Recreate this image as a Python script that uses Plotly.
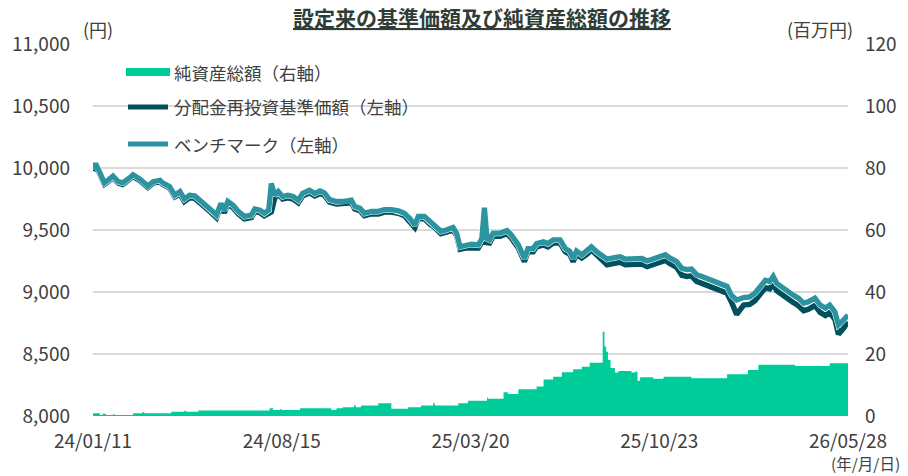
import pandas as pd
import plotly.graph_objects as go

# ---------------- data ----------------
launch = "2024-01-11"

# days since launch for the NAV / benchmark readings
nav_days = [0, 3, 8, 13, 17, 23, 29, 34, 42, 46, 54, 63, 69, 77, 80, 88, 94, 100, 105, 111,
            117, 125, 130, 136, 142, 147, 151, 155, 161, 167, 174, 182, 186, 192, 197, 202, 205, 209, 213, 218,
            224, 230, 236, 241, 249, 255, 261, 266, 272, 280, 289, 297, 301, 307, 312, 320, 328, 335, 343, 351,
            358, 364, 370, 374, 381, 387, 393, 400, 406, 414, 418, 422, 428, 435, 443, 447, 450, 453, 456, 460,
            468, 476, 481, 489, 496, 500, 506, 510, 518, 523, 529, 537, 543, 548, 552, 556, 562, 568, 573, 579,
            585, 591, 598, 606, 612, 619, 625, 631, 637, 644, 650, 658, 663, 671, 677, 683, 688, 694, 700, 706,
            713, 721, 729, 734, 740, 748, 755, 761, 767, 773, 778, 782, 786, 792, 797, 805, 811, 817, 822, 830,
            836, 842, 847, 853, 857, 863, 868]

benchmark = [9990, 10035, 9960, 9880, 9900, 9935, 9890, 9880, 9920, 9945, 9910, 9855, 9890, 9900, 9880, 9850, 9780, 9810, 9750, 9780,
             9775, 9730, 9695, 9660, 9620, 9715, 9660, 9730, 9700, 9650, 9610, 9620, 9670, 9660, 9635, 9660, 9875, 9780, 9810, 9770,
             9780, 9770, 9740, 9795, 9820, 9795, 9815, 9800, 9745, 9730, 9730, 9740, 9690, 9675, 9635, 9650, 9650, 9665, 9665, 9655,
             9635, 9595, 9540, 9610, 9610, 9570, 9540, 9490, 9500, 9520, 9475, 9365, 9375, 9385, 9380, 9430, 9680, 9430, 9420, 9475,
             9475, 9495, 9460, 9380, 9270, 9350, 9350, 9390, 9405, 9390, 9420, 9420, 9350, 9330, 9270, 9330, 9300, 9330, 9365, 9325,
             9300, 9265, 9275, 9285, 9265, 9270, 9275, 9270, 9250, 9270, 9285, 9300, 9275, 9245, 9190, 9180, 9185, 9140, 9125, 9110,
             9090, 9070, 9045, 8975, 8935, 8955, 8960, 8990, 9045, 9095, 9085, 9125, 9070, 9045, 9015, 8975, 8950, 8910, 8920, 8950,
             8895, 8870, 8895, 8840, 8735, 8775, 8815]

fund_nav = [9978, 10023, 9948, 9868, 9888, 9923, 9878, 9868, 9908, 9933, 9898, 9843, 9878, 9888, 9868, 9838, 9768, 9790, 9730, 9760,
            9755, 9710, 9675, 9640, 9600, 9695, 9640, 9710, 9680, 9630, 9590, 9600, 9650, 9640, 9615, 9640, 9645, 9760, 9790, 9750,
            9760, 9750, 9720, 9775, 9800, 9775, 9795, 9780, 9725, 9710, 9710, 9720, 9670, 9655, 9615, 9630, 9630, 9645, 9645, 9635,
            9615, 9575, 9520, 9590, 9590, 9550, 9520, 9470, 9480, 9500, 9455, 9345, 9355, 9360, 9355, 9405, 9400, 9405, 9395, 9450,
            9450, 9470, 9435, 9355, 9245, 9325, 9325, 9365, 9380, 9365, 9395, 9395, 9325, 9305, 9245, 9305, 9275, 9305, 9340, 9300,
            9255, 9220, 9230, 9240, 9220, 9225, 9230, 9225, 9205, 9225, 9240, 9255, 9230, 9200, 9135, 9125, 9130, 9085, 9070, 9055,
            9035, 9015, 8990, 8920, 8820, 8895, 8900, 8930, 8985, 9035, 9025, 9065, 9010, 8985, 8955, 8915, 8890, 8850, 8860, 8890,
            8835, 8810, 8835, 8780, 8660, 8710, 8760]

# days since launch for net-asset readings (step values, 百万円)
asset_days = [0, 8, 11, 15, 23, 25, 46, 57, 59, 90, 105, 107, 121, 203, 207, 215, 217, 238, 274, 280,
              287, 300, 302, 308, 328, 343, 362, 377, 391, 393, 420, 431, 453, 454, 472, 477, 489, 510, 518, 529,
              539, 552, 562, 571, 586, 588, 590, 592, 595, 600, 604, 619, 623, 626, 629, 644, 656, 688, 729, 753,
              765, 807, 847, 868]
net_assets = [0.9, 0.3, 0.7, 0.3, 0.6, 0.3, 0.9, 1.3, 0.9, 1.4, 1.7, 1.4, 1.8, 2.5, 1.9, 2.2, 1.9, 2.5, 1.9, 2.5,
              2.8, 3.5, 2.8, 3.4, 4.1, 2.3, 2.8, 3.4, 4.1, 3.4, 4.1, 4.9, 6.0, 5.6, 7.7, 7.1, 8.6, 9.5, 11.8, 12.7,
              14.1, 15.1, 15.9, 17.2, 27.2, 22.4, 20.7, 18.1, 15.5, 14.0, 14.5, 14.0, 14.3, 11.4, 12.5, 12.0, 12.7, 12.2, 13.5, 14.8,
              16.5, 16.1, 17.0, 17.0]

x_tick_dates = ["2024-01-11", "2024-08-15", "2025-03-20", "2025-10-23", "2026-05-28"]
x_tick_labels = ["24/01/11", "24/08/15", "25/03/20", "25/10/23", "26/05/28"]
left_ticks = [8000, 8500, 9000, 9500, 10000, 10500, 11000]
right_ticks = [0, 20, 40, 60, 80, 100, 120]

series_names = ["純資産総額（右軸）", "分配金再投資基準価額（左軸）", "ベンチマーク（左軸）"]

# ---------------- styling ----------------
C_AREA = "#00CC99"
C_FUND = "#00505E"
C_BENCH = "#2C94A1"
C_GRID = "#D9D9D9"
C_TEXT = "#404040"
FONT = "Noto Sans CJK JP"

base = pd.Timestamp(launch)
nav_dates = [base + pd.Timedelta(days=d) for d in nav_days]
asset_dates = [base + pd.Timedelta(days=d) for d in asset_days]

fig = go.Figure()
fig.add_trace(go.Scatter(x=asset_dates, y=net_assets, yaxis="y", mode="lines",
                         line=dict(width=0, shape="hv", color=C_AREA), fill="tozeroy",
                         fillcolor=C_AREA, name=series_names[0], hoverinfo="skip"))
fig.add_trace(go.Scatter(x=nav_dates, y=fund_nav, yaxis="y2", mode="lines",
                         line=dict(width=5.5, color=C_FUND), name=series_names[1]))
fig.add_trace(go.Scatter(x=nav_dates, y=benchmark, yaxis="y2", mode="lines",
                         line=dict(width=6.3, color="white"), showlegend=False, hoverinfo="skip"))
fig.add_trace(go.Scatter(x=nav_dates, y=benchmark, yaxis="y2", mode="lines",
                         line=dict(width=5.3, color=C_BENCH), name=series_names[2]))

# plot area in pixels: x 93..848, y 44..416
L, R, T, B = 93, 848, 44, 416
def px(x):
    return (x - L) / (R - L)
def py(y):
    return (B - y) / (B - T)

annotations = [
    dict(text="<b><u>設定来の基準価額及び純資産総額の推移</u></b>", x=px(482), y=py(17),
         font=dict(size=21, color="#303D36", family=FONT)),
    dict(text="(円)", x=px(98), y=py(29), font=dict(size=18, color=C_TEXT, family=FONT)),
    dict(text="(百万円)", x=px(820), y=py(29), font=dict(size=18, color=C_TEXT, family=FONT)),
    dict(text="(年/月/日)", x=px(902), y=py(476), xanchor="right", yanchor="bottom",
         font=dict(size=15.5, color=C_TEXT, family=FONT)),
]
legend_rows = [72, 107, 144]
for name, yy in zip(series_names, legend_rows):
    annotations.append(dict(text=name, x=px(172), y=py(yy), xanchor="left",
                            font=dict(size=17.5, color=C_TEXT, family=FONT)))
for a in annotations:
    a.setdefault("xref", "paper")
    a.setdefault("yref", "paper")
    a.setdefault("showarrow", False)
    a.setdefault("xanchor", "center")
    a.setdefault("yanchor", "middle")

shapes = [
    dict(type="rect", xref="paper", yref="paper", x0=px(126), x1=px(170), y0=py(76), y1=py(68),
         fillcolor=C_AREA, line=dict(width=0)),
    dict(type="line", xref="paper", yref="paper", x0=px(128), x1=px(168), y0=py(107), y1=py(107),
         line=dict(color=C_FUND, width=5)),
    dict(type="line", xref="paper", yref="paper", x0=px(128), x1=px(168), y0=py(144), y1=py(144),
         line=dict(color=C_BENCH, width=5)),
]

fig.update_layout(
    width=908, height=476,
    margin=dict(l=L, r=908 - R, t=T, b=476 - B),
    paper_bgcolor="white", plot_bgcolor="white",
    showlegend=False,
    font=dict(family=FONT, color=C_TEXT),
    xaxis=dict(type="date", range=[x_tick_dates[0], x_tick_dates[-1]],
               tickvals=x_tick_dates, ticktext=x_tick_labels,
               showgrid=False, zeroline=False, showline=False, ticks="",
               ticklabelstandoff=12, tickfont=dict(size=19, color=C_TEXT, family=FONT)),
    yaxis=dict(side="right", range=[0, 120], tickvals=right_ticks,
               ticktext=[str(v) for v in right_ticks],
               showgrid=True, gridcolor=C_GRID, gridwidth=2, zeroline=False, showline=False,
               ticks="", ticklabelstandoff=16, tickfont=dict(size=19, color=C_TEXT, family=FONT)),
    yaxis2=dict(overlaying="y", side="left", range=[8000, 11000], tickvals=left_ticks,
                ticktext=[f"{v:,}" for v in left_ticks],
                showgrid=False, zeroline=False, showline=False,
                ticks="", ticklabelstandoff=22, tickfont=dict(size=19, color=C_TEXT, family=FONT)),
    annotations=annotations,
    shapes=shapes,
)

fig.write_html("out.html", config={"displayModeBar": False},
               post_script="document.body.style.margin='0px';")
